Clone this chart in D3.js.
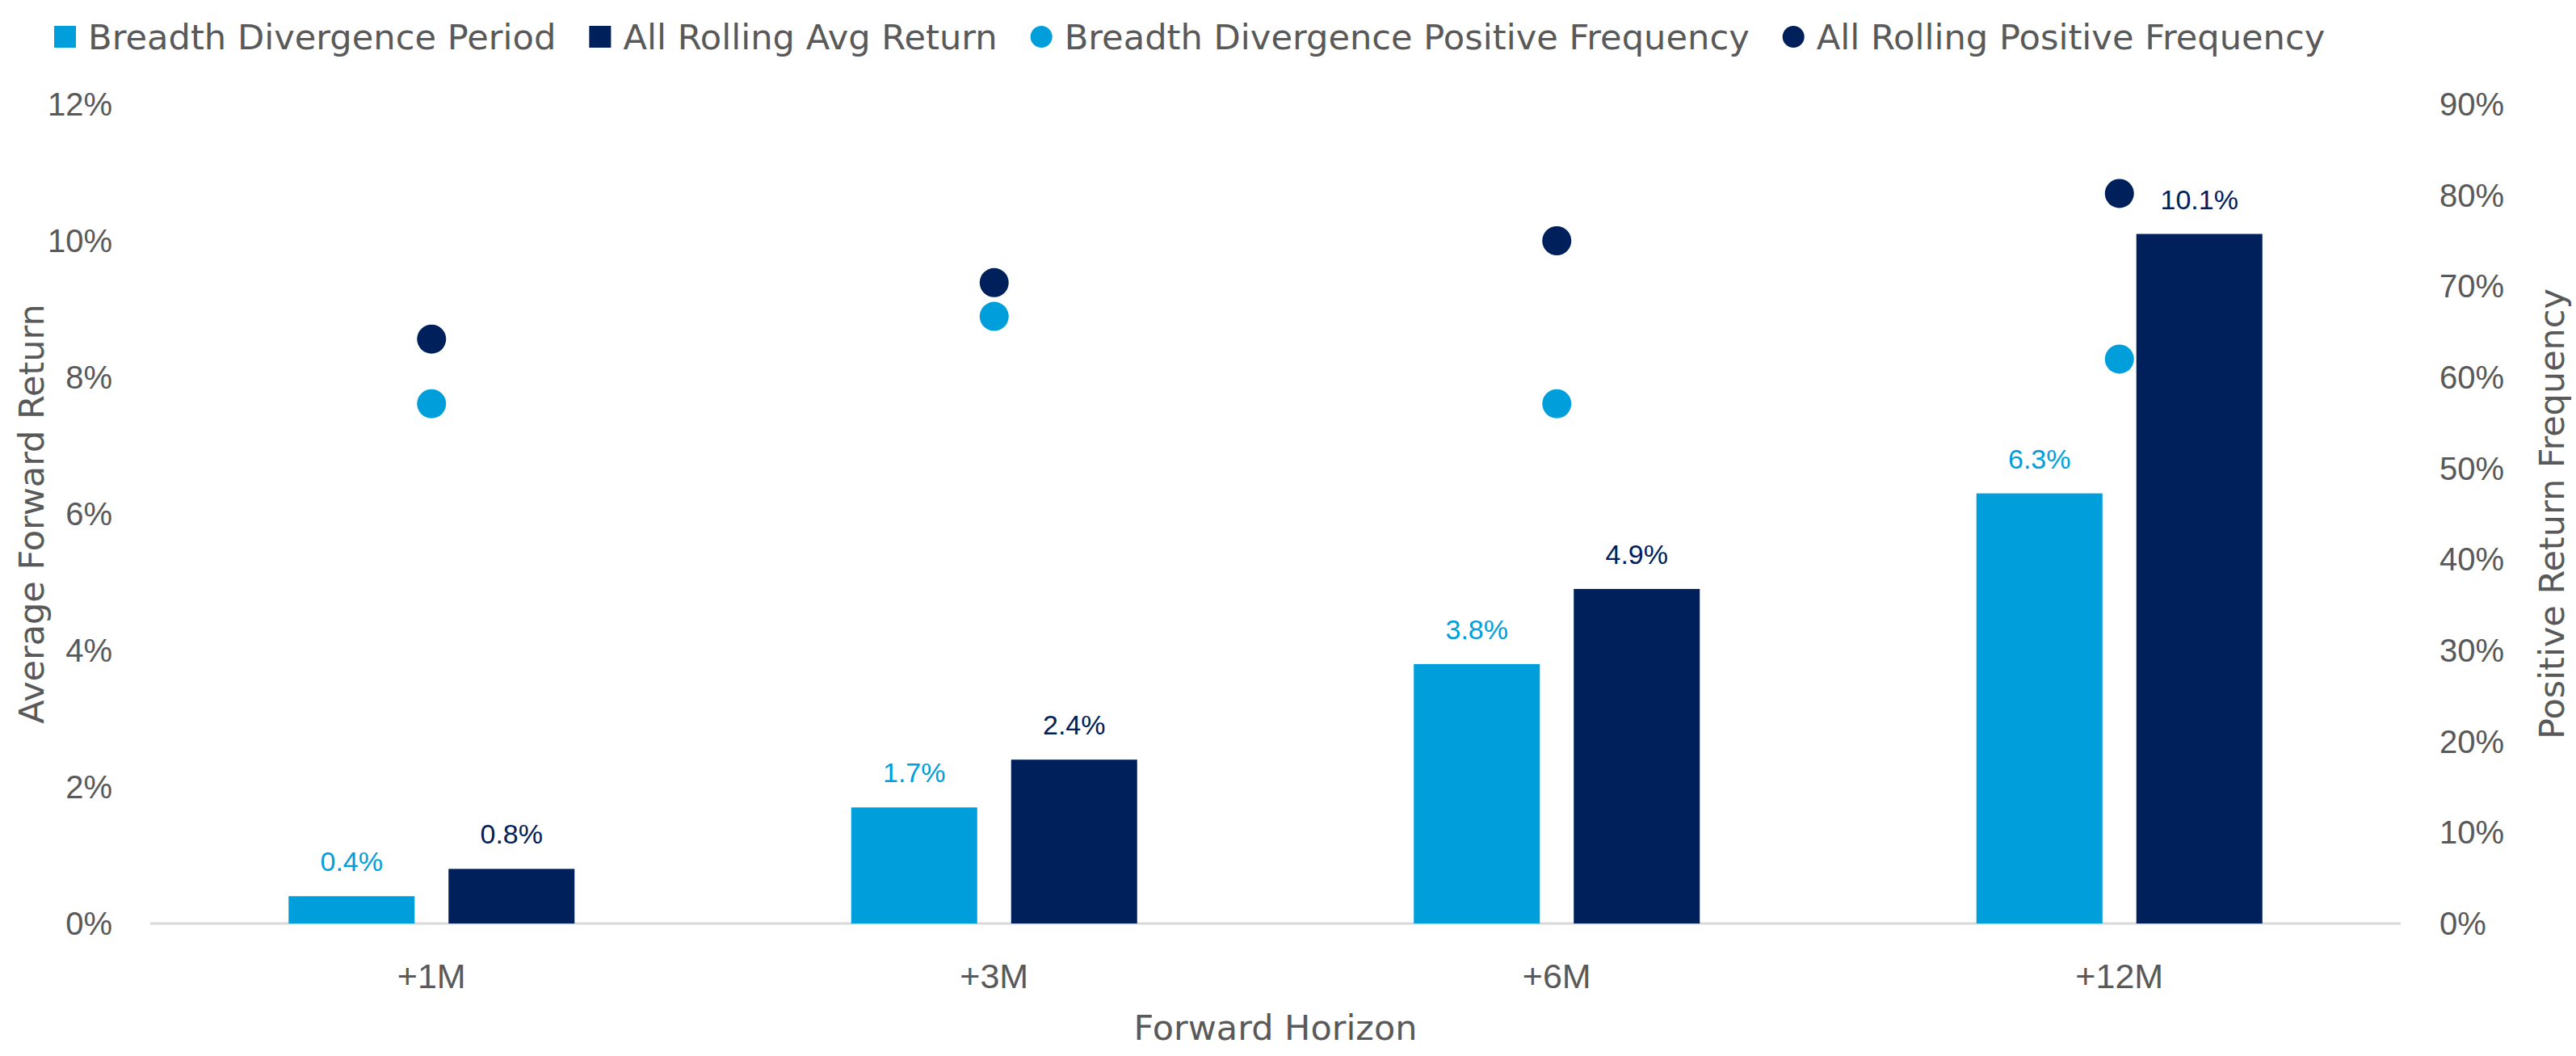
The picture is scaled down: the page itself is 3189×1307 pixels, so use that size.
<!DOCTYPE html>
<html>
<head>
<meta charset="utf-8">
<script src="https://cdn.jsdelivr.net/npm/d3@7"></script>
<style>
  body { margin: 0; background: #fff; }
  svg { display: block; }
  .tick-label { font-family: "Liberation Sans", Arial, sans-serif; font-size: 40px; fill: #595959; }
  .x-label { font-family: "Liberation Sans", Arial, sans-serif; font-size: 43px; fill: #595959; }
  .title { font-family: "DejaVu Sans", sans-serif; font-size: 43px; fill: #595959; }
  .legend-text { font-family: "DejaVu Sans", sans-serif; font-size: 43.2px; fill: #595959; }
  .value-label { font-family: "Liberation Sans", Arial, sans-serif; font-size: 34px; }
</style>
</head>
<body>
<svg></svg>
<script>
// values
const horizons = ["+1M", "+3M", "+6M", "+12M"];
const breadthReturn = [0.4, 1.7, 3.8, 6.3];      // % avg forward return, breadth divergence
const rollingReturn = [0.8, 2.4, 4.9, 10.1];     // % avg forward return, all rolling
const breadthFreq = [57.1, 66.7, 57.1, 62.0];    // % positive frequency, breadth divergence
const rollingFreq = [64.2, 70.4, 75.0, 80.2];    // % positive frequency, all rolling
const returnTicks = [0, 2, 4, 6, 8, 10, 12];
const freqTicks = [0, 10, 20, 30, 40, 50, 60, 70, 80, 90];
const seriesNames = ["Breadth Divergence Period", "All Rolling Avg Return",
  "Breadth Divergence Positive Frequency", "All Rolling Positive Frequency"];

const lightBlue = "#009fdb";
const navy = "#00205b";

const W = 3189, H = 1307;
const svg = d3.select("svg").attr("width", W).attr("height", H);

const x0 = d3.scaleBand()
  .domain(horizons)
  .range([186, 2972]);

// two bars per group, 156 wide with a 42 gap, centered on the band
const x1 = d3.scaleBand()
  .domain(["breadth", "rolling"])
  .range([x0.bandwidth() / 2 - 177, x0.bandwidth() / 2 + 177])
  .paddingInner(0.212);

const yLeft = d3.scaleLinear().domain([0, 12]).range([1143, 129]);
const yRight = d3.scaleLinear().domain([0, 90]).range([1143, 129]);

const fmt = d => d3.format(".1f")(d) + "%";

// baseline
svg.append("line")
  .attr("x1", x0.range()[0]).attr("x2", x0.range()[1])
  .attr("y1", yLeft(0)).attr("y2", yLeft(0))
  .attr("stroke", "#d9d9d9").attr("stroke-width", 3);

// left axis labels
svg.append("g")
  .selectAll("text")
  .data(returnTicks)
  .enter()
  .append("text")
  .attr("class", "tick-label")
  .attr("x", 139)
  .attr("y", d => yLeft(d))
  .attr("dy", "0.35em")
  .attr("text-anchor", "end")
  .text(d => d + "%");

// right axis labels
svg.append("g")
  .selectAll("text")
  .data(freqTicks)
  .enter()
  .append("text")
  .attr("class", "tick-label")
  .attr("x", 3020)
  .attr("y", d => yRight(d))
  .attr("dy", "0.35em")
  .text(d => d + "%");

// category labels
svg.append("g")
  .selectAll("text")
  .data(horizons)
  .enter()
  .append("text")
  .attr("class", "x-label")
  .attr("x", d => x0(d) + x0.bandwidth() / 2)
  .attr("y", 1223)
  .attr("text-anchor", "middle")
  .text(d => d);

// axis titles
svg.append("text")
  .attr("class", "title")
  .attr("x", (x0.range()[0] + x0.range()[1]) / 2)
  .attr("y", 1287)
  .attr("text-anchor", "middle")
  .text("Forward Horizon");

svg.append("text")
  .attr("class", "title")
  .attr("transform", `translate(54, ${(yLeft(0) + yLeft(12)) / 2}) rotate(-90)`)
  .attr("text-anchor", "middle")
  .text("Average Forward Return");

svg.append("text")
  .attr("class", "title")
  .attr("transform", `translate(3174, ${(yLeft(0) + yLeft(12)) / 2}) rotate(-90)`)
  .attr("text-anchor", "middle")
  .text("Positive Return Frequency");

// bars
const rows = horizons.map((h, i) => ({
  h: h,
  bars: [
    { key: "breadth", v: breadthReturn[i], color: lightBlue },
    { key: "rolling", v: rollingReturn[i], color: navy }
  ],
  dots: [
    { v: breadthFreq[i], color: lightBlue },
    { v: rollingFreq[i], color: navy }
  ]
}));

const groups = svg.selectAll("g.group")
  .data(rows)
  .enter()
  .append("g")
  .attr("class", "group")
  .attr("transform", d => `translate(${x0(d.h)}, 0)`);

groups.selectAll("rect")
  .data(d => d.bars)
  .enter()
  .append("rect")
  .attr("x", d => x1(d.key))
  .attr("y", d => yLeft(d.v))
  .attr("width", x1.bandwidth())
  .attr("height", d => yLeft(0) - yLeft(d.v))
  .style("fill", d => d.color);

groups.selectAll("text.value-label")
  .data(d => d.bars)
  .enter()
  .append("text")
  .attr("class", "value-label")
  .attr("x", d => x1(d.key) + x1.bandwidth() / 2)
  .attr("y", d => yLeft(d.v) - 31)
  .attr("text-anchor", "middle")
  .style("fill", d => d.color)
  .text(d => fmt(d.v));

// frequency dots on the right scale
groups.selectAll("circle")
  .data(d => d.dots)
  .enter()
  .append("circle")
  .attr("cx", x0.bandwidth() / 2)
  .attr("cy", d => yRight(d.v))
  .attr("r", 18)
  .style("fill", d => d.color);

// legend
const legendItems = [
  { name: seriesNames[0], color: lightBlue, shape: "square" },
  { name: seriesNames[1], color: navy, shape: "square" },
  { name: seriesNames[2], color: lightBlue, shape: "circle" },
  { name: seriesNames[3], color: navy, shape: "circle" }
];

const legend = svg.append("g").attr("class", "legend");
let lx = 67;
legendItems.forEach(item => {
  const g = legend.append("g");
  if (item.shape === "square") {
    g.append("rect")
      .attr("x", lx).attr("y", 32)
      .attr("width", 27).attr("height", 27)
      .style("fill", item.color);
  } else {
    g.append("circle")
      .attr("cx", lx + 13.5).attr("cy", 45.5)
      .attr("r", 13.5)
      .style("fill", item.color);
  }
  const t = g.append("text")
    .attr("class", "legend-text")
    .attr("x", lx + 27 + 15)
    .attr("y", 61)
    .text(item.name);
  lx = lx + 27 + 15 + t.node().getComputedTextLength() + 41;
});
</script>
</body>
</html>
